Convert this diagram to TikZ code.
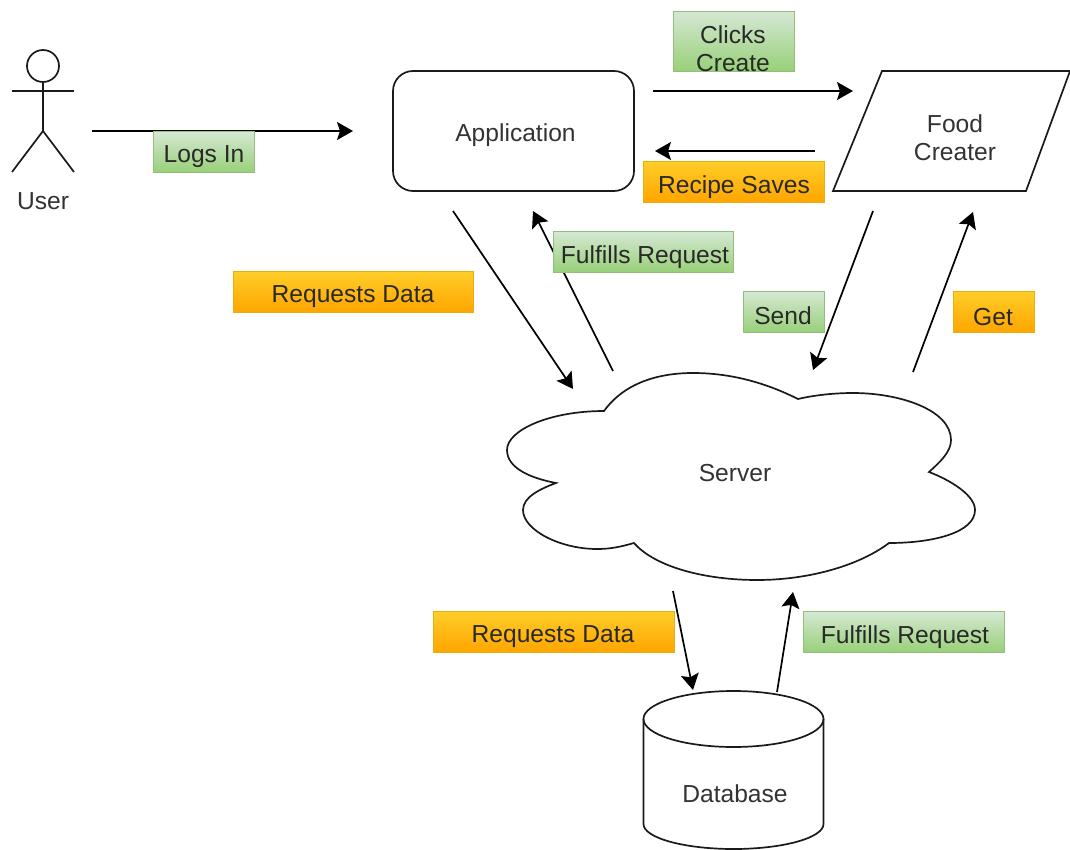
\documentclass[tikz,border=0pt]{standalone}
\usepackage{fontspec}
\setmainfont{Liberation Sans}
\usetikzlibrary{arrows.meta}
\definecolor{txt}{HTML}{333333}
\definecolor{lineC}{HTML}{1A1A1A}
\definecolor{grT}{HTML}{D5E8D4}
\definecolor{grB}{HTML}{97D077}
\definecolor{grD}{HTML}{82B366}
\definecolor{orT}{HTML}{FFCD28}
\definecolor{orB}{HTML}{FFA500}
\definecolor{orD}{HTML}{D79B00}
\tikzset{
  shp/.style={draw=lineC,line width=1.7pt,line join=miter},
  flow/.style={draw=black,line width=1.7pt,-{Stealth[length=16pt,width=18pt,inset=3pt]}},
  tx/.style={text=txt,font=\fontsize{24.6}{28}\selectfont,inner sep=0pt,align=center},
  lbltext/.style={tx,text=txt!80!black},
  lblbase/.style={line width=1.3pt,minimum height=41pt,inner sep=0pt,anchor=north west},
  greenlbl/.style={lblbase,draw=grD!85!white,top color=grT,bottom color=grB},
  orangelbl/.style={lblbase,draw=orD!60!orT,top color=orT,bottom color=orB},
}
\begin{document}
\begin{tikzpicture}[x=1pt,y=-1pt]
\useasboundingbox (0,0) rectangle (1070,850);
% actor
\node[circle,shp,minimum size=32pt,inner sep=0pt] (head) at (43,66) {};
\coordinate (neck) at (43,131);
\coordinate (armL) at (12,91);
\coordinate (armR) at (74,91);
\coordinate (legL) at (12,172);
\coordinate (legR) at (74,172);
\draw[shp] (head.south) -- (neck);
\draw[shp] (armL) -- (armR);
\draw[shp] (legL) -- (neck) -- (legR);
\node[tx] (user) at (43,201) {User};
% main shapes
\node[shp,rounded corners=20pt,minimum width=241pt,minimum height=120pt,inner sep=0pt] (app) at (513.5,131) {};
\node[tx] (apptxt) at (515.5,135) {Application};
\coordinate (fa) at (833,191);
\coordinate (fb) at (882,71);
\coordinate (fc) at (1070,71);
\coordinate (fd) at (1026,191);
\draw[shp] (fa) -- (fb) -- (fc) -- (fd) -- cycle;
\node[tx] (food) at (955,138) {Food\\Creater};
% cloud
\draw[shp,fill=white] (604,411)
  .. controls (625,382) and (660,373) .. (693,373)
  .. controls (735,373) and (770,385) .. (798,399)
  .. controls (815,395) and (835,393) .. (853,393)
  .. controls (900,393) and (951,410) .. (951,440)
  .. controls (951,452) and (940,462) .. (929,472)
  .. controls (950,480) and (975,495) .. (975,510)
  .. controls (975,532) and (935,543) .. (889,543)
  .. controls (860,565) and (810,580) .. (757,580)
  .. controls (705,580) and (655,567) .. (634,543)
  .. controls (620,547) and (610,549) .. (597,549)
  .. controls (560,549) and (523,530) .. (523,510)
  .. controls (523,497) and (540,489) .. (556,483)
  .. controls (530,478) and (507,468) .. (507,450)
  .. controls (507,430) and (550,411) .. (604,411) -- cycle;
\node[tx] (server) at (735,473) {Server};
% database
\coordinate (dbTL) at (643.5,719);
\coordinate (dbTR) at (823.5,719);
\coordinate (dbBL) at (643.5,824);
\draw[shp] (dbTL) arc[start angle=180,end angle=-180,x radius=90pt,y radius=28pt];
\draw[shp] (dbTL) -- (dbBL) arc[start angle=180,end angle=360,x radius=90pt,y radius=25pt] -- (dbTR);
\node[tx] (db) at (735,794) {Database};
% free connector ends
\coordinate (a1) at (92,131);   \coordinate (a2) at (353,131);
\coordinate (b1) at (653,91);   \coordinate (b2) at (853,91);
\coordinate (c1) at (815,151);  \coordinate (c2) at (655,151);
\coordinate (d1) at (453,211);  \coordinate (d2) at (573,389);
\coordinate (e1) at (613,371);  \coordinate (e2) at (533,211);
\coordinate (f1) at (873,211);  \coordinate (f2) at (813,370);
\coordinate (g1) at (913,372);  \coordinate (g2) at (973,212);
\coordinate (h1) at (673,591);  \coordinate (h2) at (693,690);
\coordinate (i1) at (777,692);  \coordinate (i2) at (793,592);
\foreach \s/\t in {a1/a2,b1/b2,c1/c2,d1/d2,e1/e2,f1/f2,g1/g2,h1/h2,i1/i2}
  \draw[flow] (\s) -- (\t);
% labels
\node[greenlbl,minimum width=101pt] (l1) at (153,131) {};
\node[lbltext] (t1) at (204,157) {Logs In};
\node[greenlbl,minimum width=121pt,minimum height=60pt] (l2) at (673,11) {};
\node[lbltext] (t2) at (733,49) {Clicks\\Create};
\node[orangelbl,minimum width=181pt] (l3) at (643,161) {};
\node[lbltext] (t3) at (734,187) {Recipe Saves};
\node[greenlbl,minimum width=180pt] (l4) at (553,231) {};
\node[lbltext] (t4) at (645,257) {Fulfills Request};
\node[orangelbl,minimum width=240pt] (l5) at (233,271) {};
\node[lbltext] (t5) at (353,297) {Requests Data};
\node[greenlbl,minimum width=81pt] (l6) at (743,291) {};
\node[lbltext] (t6) at (783,316) {Send};
\node[orangelbl,minimum width=81pt] (l7) at (953,291) {};
\node[lbltext] (t7) at (993,317) {Get};
\node[orangelbl,minimum width=241pt] (l8) at (433,611) {};
\node[lbltext] (t8) at (553,637) {Requests Data};
\node[greenlbl,minimum width=201pt] (l9) at (803,611) {};
\node[lbltext] (t9) at (905,637) {Fulfills Request};
\end{tikzpicture}
\end{document}
